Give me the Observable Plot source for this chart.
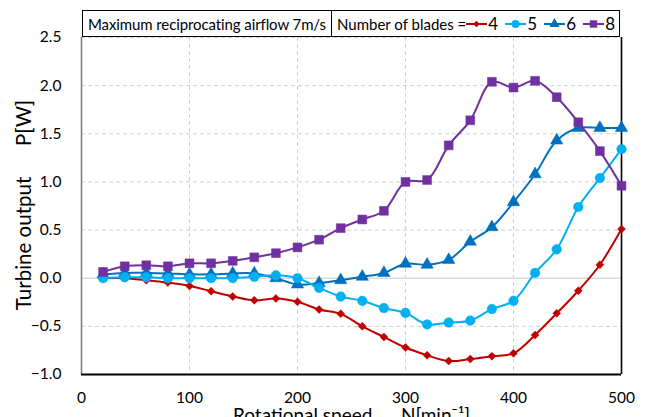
<!DOCTYPE html>
<html>
<head>
<meta charset="utf-8">
<script src="https://cdn.jsdelivr.net/npm/d3@7"></script>
<script src="https://cdn.jsdelivr.net/npm/@observablehq/plot@0.6"></script>
<style>
  html, body { margin: 0; padding: 0; background: #fff; }
  #wrap { position: relative; width: 645px; height: 417px; overflow: hidden; font-family: Lato, "Open Sans", sans-serif; }
  #legend { position: absolute; left: 82px; top: 10px; height: 27px; display: flex; }
  .box { box-sizing: border-box; height: 27px; border: 1.5px solid #000; background: #fff; display: flex; align-items: center; font-size: 15px; color: #000; white-space: nowrap; overflow: hidden; }
  #box1 { width: 250px; padding-left: 5px; letter-spacing: -0.1px; }
  #box2 { width: 289px; margin-left: -1px; padding-left: 5px; letter-spacing: 0px; }
  #lab2 { display: inline-block; width: 134px; margin-right: 0px; }
  .sw { display: inline-flex; align-items: center; }
  .sw span { display: inline-block; margin-left: 1px; width: 17px; font-size: 17px; }
</style>
</head>
<body>
<div id="wrap">
  <div id="chart"></div>
  <div id="legend">
    <div class="box" id="box1"></div>
    <div class="box" id="box2"></div>
  </div>
</div>
<script>
const rpm = [20,40,60,80,100,120,140,160,180,200,220,240,260,280,300,320,340,360,380,400,420,440,460,480,500];
const blades4 = [0.0,0.0,-0.02,-0.045,-0.08,-0.135,-0.19,-0.23,-0.21,-0.245,-0.325,-0.37,-0.50,-0.61,-0.72,-0.80,-0.86,-0.84,-0.81,-0.78,-0.59,-0.365,-0.13,0.14,0.51];
const blades5 = [0.0,0.01,0.01,0.0,0.0,0.0,0.0,0.015,0.03,0.0,-0.1,-0.19,-0.235,-0.31,-0.36,-0.48,-0.46,-0.44,-0.32,-0.235,0.055,0.30,0.74,1.04,1.34];
const blades6 = [0.04,0.055,0.055,0.05,0.04,0.04,0.05,0.05,0.0,-0.065,-0.05,-0.02,0.015,0.055,0.15,0.14,0.19,0.38,0.53,0.79,1.08,1.43,1.56,1.56,1.56];
const blades8 = [0.065,0.124,0.135,0.124,0.155,0.155,0.18,0.217,0.26,0.32,0.40,0.52,0.61,0.70,1.0,1.02,1.38,1.64,2.04,1.98,2.05,1.88,1.62,1.32,0.96];

const seriesNames = ["4","5","6","8"];
const seriesColors = ["#C00000","#00B0F0","#0070C0","#7030A0"];
const seriesSymbols = ["diamond2","circle","triangle","square"];
const seriesR = [3.6,4.8,4.6,5.0];
const seriesValues = [blades4, blades5, blades6, blades8];
const drawOrder = [0,2,1,3];

const xTicks = [0,100,200,300,400,500];
const yTicks = [-1.0,-0.5,0.0,0.5,1.0,1.5,2.0,2.5];
const legendTitle = "Maximum reciprocating airflow 7m/s";
const legendLabel = "Number of blades =";
const xTitle = "Rotational speed\u2003\u2003N[min\u207B\u00B9]";
const yTitle = "Turbine output\u2003\u2003P[W]";

const marks = [
  Plot.gridX(xTicks.slice(1, -1), {stroke: "#d0d0d0", strokeOpacity: 1, strokeDasharray: "4,3", strokeWidth: 1}),
  Plot.gridY(yTicks.filter(d => d !== 0 && d !== -1), {stroke: "#d0d0d0", strokeOpacity: 1, strokeDasharray: "4,3", strokeWidth: 1}),
  Plot.ruleY([0], {stroke: "#d9d9d9", strokeWidth: 1.6}),
  Plot.ruleX([0], {stroke: "#7a7a7a", strokeWidth: 1.5}),
  Plot.ruleX([500], {stroke: "#000", strokeWidth: 1.6}),
  Plot.ruleY([-1], {stroke: "#000", strokeWidth: 1.8}),
  Plot.axisX({ticks: xTicks, tickSize: 0, tickPadding: 17, label: null, fontSize: 15.5}),
  Plot.axisY({ticks: yTicks, tickSize: 0, tickPadding: 20, label: null, fontSize: 15.5, tickFormat: d3.format(".1f")}),
  Plot.text([xTitle], {frameAnchor: "bottom", dy: 47, lineAnchor: "bottom", fontSize: 19}),
  Plot.text([yTitle], {frameAnchor: "left", textAnchor: "middle", dx: -57, dy: -1, rotate: -90, lineAnchor: "middle", fontSize: 20.5})
];

for (const i of drawOrder) {
  const rows = rpm.map((x, j) => ({x, y: seriesValues[i][j]}));
  marks.push(Plot.line(rows, {x: "x", y: "y", stroke: seriesColors[i], strokeWidth: 2, curve: "catmull-rom"}));
  marks.push(Plot.dot(rows, {x: "x", y: "y", fill: seriesColors[i], stroke: seriesColors[i], strokeWidth: 0.5, symbol: seriesSymbols[i], r: seriesR[i]}));
}

const chart = Plot.plot({
  width: 645, height: 417,
  marginLeft: 81, marginRight: 24, marginTop: 37, marginBottom: 43,
  style: {fontFamily: "Lato, 'Open Sans', sans-serif", color: "#000", background: "#fff", overflow: "visible"},
  x: {domain: [0, 500]},
  y: {domain: [-1, 2.5]},
  marks
});
document.getElementById("chart").appendChild(chart);

document.getElementById("box1").textContent = legendTitle;
const box2 = document.getElementById("box2");
const lab = document.createElement("span");
lab.id = "lab2";
lab.textContent = legendLabel;
box2.appendChild(lab);
const symMap = {diamond2: d3.symbolDiamond2, circle: d3.symbolCircle, triangle: d3.symbolTriangle, square: d3.symbolSquare};
seriesNames.forEach((name, i) => {
  const sw = document.createElement("span");
  sw.className = "sw";
  const size = Math.PI * seriesR[i] * seriesR[i] * 0.7;
  const path = d3.symbol(symMap[seriesSymbols[i]], size)();
  sw.innerHTML = `<svg width="21" height="14"><line x1="0" y1="7" x2="21" y2="7" stroke="${seriesColors[i]}" stroke-width="2"/><path transform="translate(10.5,7)" d="${path}" fill="${seriesColors[i]}"/></svg><span>${name}</span>`;
  box2.appendChild(sw);
});
</script>
</body>
</html>
